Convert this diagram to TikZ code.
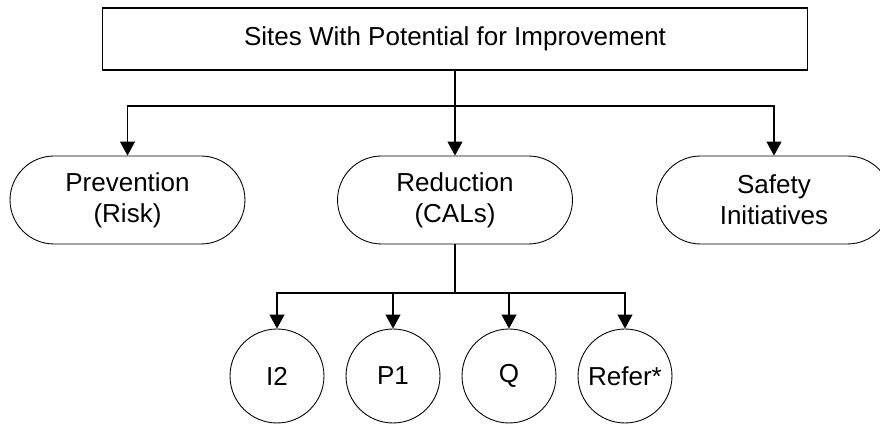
\documentclass[tikz,border=0pt]{standalone}
\usepackage{fontspec}
\setmainfont{Liberation Sans}
\usepackage{tikz}
\usetikzlibrary{arrows.meta}
\usetikzlibrary{calc}

\tikzset{
  box/.style={draw, line width=0.6pt, minimum width=14.12cm, minimum height=1.24cm},
  pill/.style={draw, line width=0.5pt, rounded corners=0.88cm, minimum width=4.7cm, minimum height=1.76cm, align=center},
  blob/.style={draw, line width=0.5pt, circle, minimum size=1.88cm, inner sep=0pt},
  link/.style={line width=0.6pt, -{Triangle[length=0.28cm, width=0.3cm]}}
}

\begin{document}
\begin{tikzpicture}[x=0.02cm, y=0.02cm, font=\fontsize{14.8}{17.5}\selectfont]
		\useasboundingbox (0,0) rectangle (880,426);
		\node[box] (top) at (455,387) {Sites With Potential for Improvement};
		\node[pill] (prev) at (127.5,226) {Prevention\\(Risk)};
		\node[pill] (red) at (455,226) {Reduction\\(CALs)};
		\node[pill] (saf) at (774,226) {Safety\\Initiatives};
		\node[blob] (i2) at (277,50) {I2};
		\node[blob] (p1) at (393,50) {P1};
		\node[blob] (q) at (509,50) {Q};
		\node[blob] (refer) at (625,50) {Refer*};
		\coordinate (bus1) at (455,320);
		\coordinate (bus2) at (455,133);
		\draw[link] (top.south) -- (red.north);
		\draw[link] (bus1) -| (prev.north);
		\draw[link] (bus1) -| (saf.north);
		\draw[line width=0.6pt] (red.south) -- (bus2);
		\foreach \c in {i2,p1,q,refer}
			\draw[link] (bus2) -| (\c.north);
	\end{tikzpicture}
\end{document}
